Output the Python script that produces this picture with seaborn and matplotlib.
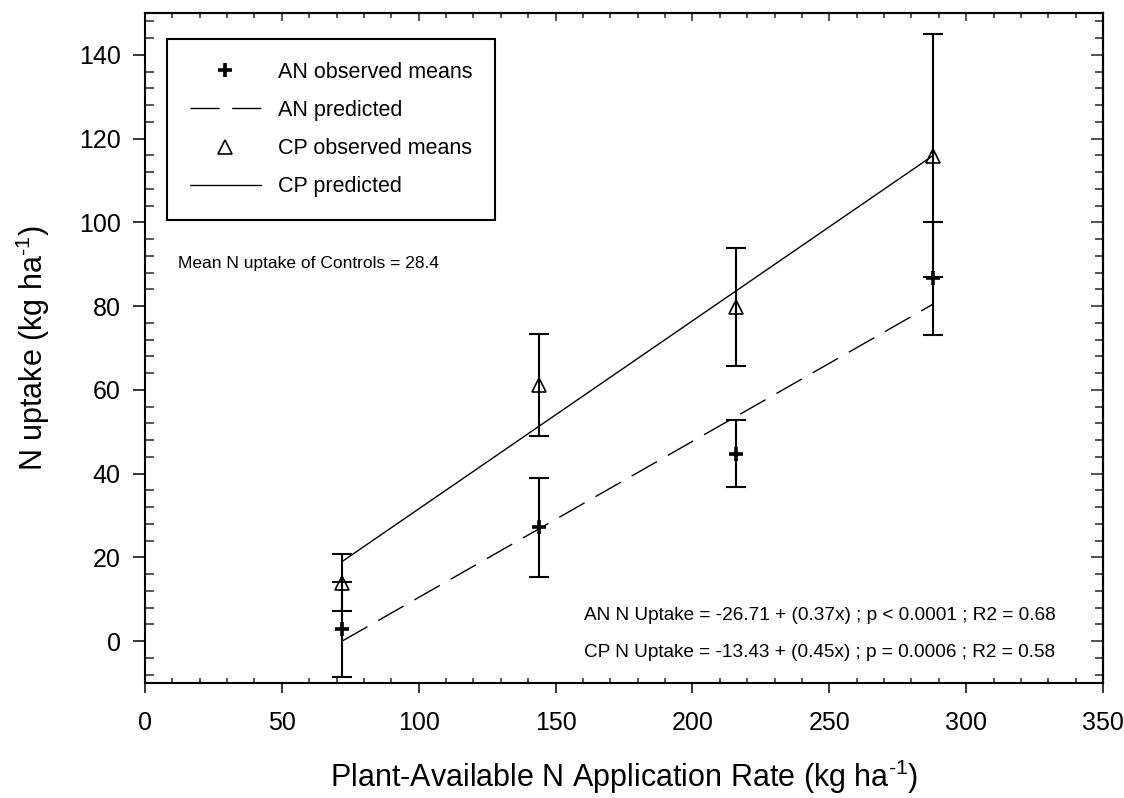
import pandas as pd
import matplotlib
matplotlib.use('Agg')
import matplotlib.pyplot as plt
import seaborn as sns
from matplotlib.lines import Line2D
from matplotlib.ticker import MultipleLocator

# Datos
rates = [72, 144, 216, 288]
an_mean = [2.8, 27.2, 44.7, 86.6]
an_err = [11.3, 11.8, 8.0, 13.6]
cp_mean = [13.9, 61.1, 79.8, 115.9]
cp_err = [6.8, 12.2, 14.2, 29.0]

# extremos de las rectas predichas
pred_x = [72, 288]
an_pred = [0.0, 80.5]
cp_pred = [19.0, 116.0]

sns.set_theme(style='ticks')
plt.rcParams['font.family'] = ['Liberation Sans', 'DejaVu Sans']
plt.rcParams['mathtext.fontset'] = 'custom'
plt.rcParams['mathtext.rm'] = 'Liberation Sans'
plt.rcParams['text.color'] = 'black'
plt.rcParams['axes.labelcolor'] = 'black'


def make_plot():
    fig = plt.figure(figsize=(11.24, 7.98), dpi=100)
    ax = fig.add_subplot(111)
    fig.subplots_adjust(left=145 / 1124, right=1103 / 1124,
                        top=1 - 13 / 798, bottom=1 - 683 / 798)

    pred_df = pd.DataFrame({'x': pred_x, 'AN': an_pred, 'CP': cp_pred})
    sns.lineplot(data=pred_df, x='x', y='AN', ax=ax, color='black',
                 linewidth=1.0)
    ax.lines[-1].set_dashes((21, 9))
    sns.lineplot(data=pred_df, x='x', y='CP', ax=ax, color='black',
                 linewidth=1.0)

    # barras de error
    for m, e in [(an_mean, an_err), (cp_mean, cp_err)]:
        ax.errorbar(rates, m, yerr=e, fmt='none', ecolor='black',
                    elinewidth=1.5, capsize=7, capthick=1.5)

    # medias observadas
    ax.plot(rates, an_mean, ls='none', marker='+', color='black',
            ms=10, mew=2.6)
    ax.plot(rates, cp_mean, ls='none', marker='^', color='black',
            mfc='none', ms=10, mew=1.2)

    ax.set_xlim(0, 350)
    ax.set_ylim(-10, 150)
    ax.set_xticks(range(0, 351, 50))
    ax.set_yticks(range(0, 141, 20))
    ax.xaxis.set_minor_locator(MultipleLocator(10))
    ax.yaxis.set_minor_locator(MultipleLocator(4))

    for s in ax.spines.values():
        s.set_linewidth(1.5)
        s.set_color('black')

    ax.tick_params(axis='x', which='major', direction='out', length=7.2,
                   width=1.1, labelsize=18, pad=13, top=False, colors='black')
    ax.tick_params(axis='x', which='minor', direction='in', length=3.6,
                   width=1.1, top=False)
    ax.tick_params(axis='y', which='major', direction='out', length=8.6,
                   width=1.1, labelsize=18, pad=9, right=False, colors='black')
    ax.tick_params(axis='y', which='minor', direction='in', length=6.5,
                   width=1.1, right=False)

    # eje superior y derecho con ticks hacia adentro
    top = ax.secondary_xaxis('top')
    top.set_xticks(range(0, 351, 50))
    top.xaxis.set_minor_locator(MultipleLocator(10))
    top.tick_params(axis='x', which='major', direction='in', length=5.8,
                    width=1.1, labeltop=False)
    top.tick_params(axis='x', which='minor', direction='in', length=3.6,
                    width=1.1)
    top.spines['top'].set_linewidth(1.5)

    right = ax.secondary_yaxis('right')
    right.set_yticks(range(0, 141, 20))
    right.yaxis.set_minor_locator(MultipleLocator(4))
    right.tick_params(axis='y', which='major', direction='in', length=9,
                      width=1.1, labelright=False)
    right.tick_params(axis='y', which='minor', direction='in', length=5.5,
                      width=1.1)
    right.spines['right'].set_linewidth(1.5)

    ax.set_xlabel(r'Plant-Available N Application Rate (kg ha$^{\text{-1}}$)',
                  fontsize=22, labelpad=16)
    ax.set_ylabel(r'N uptake (kg ha$^{\text{-1}}$)', fontsize=22, labelpad=19)

    ax.text(12, 90.2, 'Mean N uptake of Controls = 28.4', fontsize=12.5,
            ha='left', va='center')
    ax.text(332.6, 6.1,
            'AN N Uptake = -26.71 + (0.37x) ; p < 0.0001 ; R2 = 0.68',
            fontsize=13.7, ha='right', va='center')
    ax.text(332.6, -2.7,
            'CP N Uptake = -13.43 + (0.45x) ; p = 0.0006 ; R2 = 0.58',
            fontsize=13.7, ha='right', va='center')

    handles = [
        Line2D([], [], marker='+', ls='none', color='black', ms=10, mew=2.6),
        Line2D([], [], ls=(0, (21, 9)), color='black', lw=1.0),
        Line2D([], [], marker='^', ls='none', color='black', mfc='none',
               ms=10, mew=1.2),
        Line2D([], [], ls='-', color='black', lw=1.0),
    ]
    labels = ['AN observed means', 'AN predicted', 'CP observed means',
              'CP predicted']
    leg = ax.legend(handles, labels, loc='upper left',
                    bbox_to_anchor=(0.023, 0.961), borderaxespad=0,
                    fontsize=15.5, handlelength=3.3, handletextpad=0.8,
                    borderpad=1.05, labelspacing=0.8, fancybox=False,
                    framealpha=1, edgecolor='black')
    leg.get_frame().set_linewidth(1.5)

    fig.savefig('out.png', dpi=100, facecolor='white')
    plt.close(fig)


if __name__ == '__main__':
    make_plot()
